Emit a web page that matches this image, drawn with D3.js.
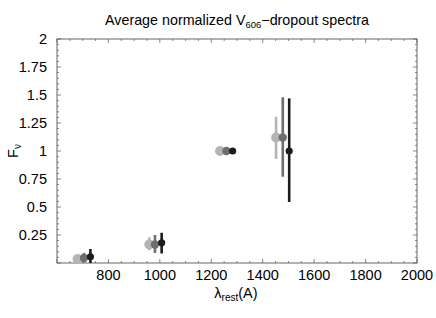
<!DOCTYPE html>
<html>
<head>
<meta charset="utf-8">
<script src="https://cdn.jsdelivr.net/npm/d3@7"></script>
<style>
  body { margin: 0; background: #fff; }
  text { font-family: "Liberation Sans", Arial, sans-serif; fill: #000; }
</style>
</head>
<body>
<div id="chart"></div>
<script>
// three spectra, one per series (light, mid, dark)
var series_names = ["light", "mid", "dark"];
var series_colours = ["#b4b4b4", "#6e6e6e", "#1c1c1c"];
var series_radius = [5, 4.2, 3.6];

var light_x = [680, 959, 1234, 1452];
var light_y = [0.035, 0.165, 1.0, 1.12];
var light_lo = [0.035, 0.115, 1.0, 0.93];
var light_hi = [0.035, 0.23, 1.0, 1.305];

var mid_x = [705, 981, 1259, 1478];
var mid_y = [0.045, 0.165, 1.0, 1.12];
var mid_lo = [0.005, 0.09, 1.0, 0.77];
var mid_hi = [0.09, 0.25, 1.0, 1.48];

var dark_x = [730, 1007, 1283, 1503];
var dark_y = [0.055, 0.18, 1.0, 1.0];
var dark_lo = [0.0, 0.085, 1.0, 0.545];
var dark_hi = [0.125, 0.27, 1.0, 1.47];

var x_ticks = [800, 1000, 1200, 1400, 1600, 1800, 2000];
var y_ticks = [0.25, 0.5, 0.75, 1, 1.25, 1.5, 1.75, 2];

function createChart(){
	var width = 436, height = 318;
	var margin = {top: 39, right: 19, bottom: 55, left: 57};

	var svg = d3.select("#chart").append("svg")
		.attr("width", width)
		.attr("height", height);

	var x = d3.scaleLinear().domain([600, 2000]).range([margin.left, width - margin.right]);
	var y = d3.scaleLinear().domain([0, 2]).range([height - margin.bottom, margin.top]);

	var x0 = x.range()[0], x1 = x.range()[1];
	var y0 = y.range()[0], y1 = y.range()[1];

	// frame ticks (inward) on all four sides
	var x_minor = d3.range(600, 2001, 50);
	var y_minor = d3.range(0, 2.001, 0.05);
	var ticks = svg.append("g").attr("stroke", "#555").attr("stroke-width", 0.7);

	x_minor.forEach(function(v){
		var major = Math.abs(v % 200) < 1e-6;
		var len = major ? 4 : 2;
		ticks.append("line").attr("x1", x(v)).attr("x2", x(v)).attr("y1", y0).attr("y2", y0 - len);
		ticks.append("line").attr("x1", x(v)).attr("x2", x(v)).attr("y1", y1).attr("y2", y1 + len);
	});
	y_minor.forEach(function(v){
		var major = Math.abs(Math.round(v * 4) - v * 4) < 1e-6;
		var len = major ? 4 : 2;
		ticks.append("line").attr("y1", y(v)).attr("y2", y(v)).attr("x1", x0).attr("x2", x0 + len);
		ticks.append("line").attr("y1", y(v)).attr("y2", y(v)).attr("x1", x1).attr("x2", x1 - len);
	});

	svg.append("rect")
		.attr("x", x0).attr("y", y1)
		.attr("width", x1 - x0).attr("height", y0 - y1)
		.attr("fill", "none").attr("stroke", "#555").attr("stroke-width", 0.9);

	// tick labels
	svg.selectAll(".xl").data(x_ticks).enter().append("text")
		.attr("x", function(d){ return x(d); })
		.attr("y", y0 + 17)
		.attr("text-anchor", "middle")
		.style("font-size", "14.5px")
		.text(function(d){ return d; });

	svg.selectAll(".yl").data(y_ticks).enter().append("text")
		.attr("x", x0 - 10)
		.attr("y", function(d){ return y(d) + 5; })
		.attr("text-anchor", "end")
		.style("font-size", "14.5px")
		.text(function(d){ return d; });

	// error bars and points
	var all = [
		{x: light_x, y: light_y, lo: light_lo, hi: light_hi},
		{x: mid_x, y: mid_y, lo: mid_lo, hi: mid_hi},
		{x: dark_x, y: dark_y, lo: dark_lo, hi: dark_hi}
	];
	var plot = svg.append("g");
	all.forEach(function(s, k){
		var g = plot.append("g").attr("class", series_names[k]);
		s.x.forEach(function(xv, i){
			g.append("line")
				.attr("x1", x(xv)).attr("x2", x(xv))
				.attr("y1", y(Math.max(s.lo[i], 0))).attr("y2", y(s.hi[i]))
				.attr("stroke", series_colours[k])
				.attr("stroke-width", 2.6);
		});
		s.x.forEach(function(xv, i){
			g.append("circle")
				.attr("cx", x(xv)).attr("cy", y(s.y[i]))
				.attr("r", series_radius[k])
				.attr("fill", series_colours[k]);
		});
	});

	// title
	var title = svg.append("text")
		.attr("x", 237)
		.attr("y", 25)
		.attr("text-anchor", "middle")
		.style("font-size", "14.3px");
	title.append("tspan").text("Average normalized V");
	title.append("tspan").attr("dy", 3).style("font-size", "9.5px").text("606");
	title.append("tspan").attr("dy", -3).text("\u2212dropout spectra");

	// x label
	var xlab = svg.append("text")
		.attr("x", 236)
		.attr("y", y0 + 35)
		.attr("text-anchor", "middle")
		.style("font-size", "14.5px");
	xlab.append("tspan").text("\u03bb");
	xlab.append("tspan").attr("dy", 3).style("font-size", "10px").text("rest");
	xlab.append("tspan").attr("dy", -3).text("(A)");

	// y label
	var ylab = svg.append("text")
		.attr("transform", "translate(18," + y(1) + ") rotate(-90)")
		.attr("text-anchor", "middle")
		.style("font-size", "14.5px");
	ylab.append("tspan").text("F");
	ylab.append("tspan").attr("dy", 3).style("font-size", "10px").text("\u03bd");
}

createChart();
</script>
</body>
</html>
